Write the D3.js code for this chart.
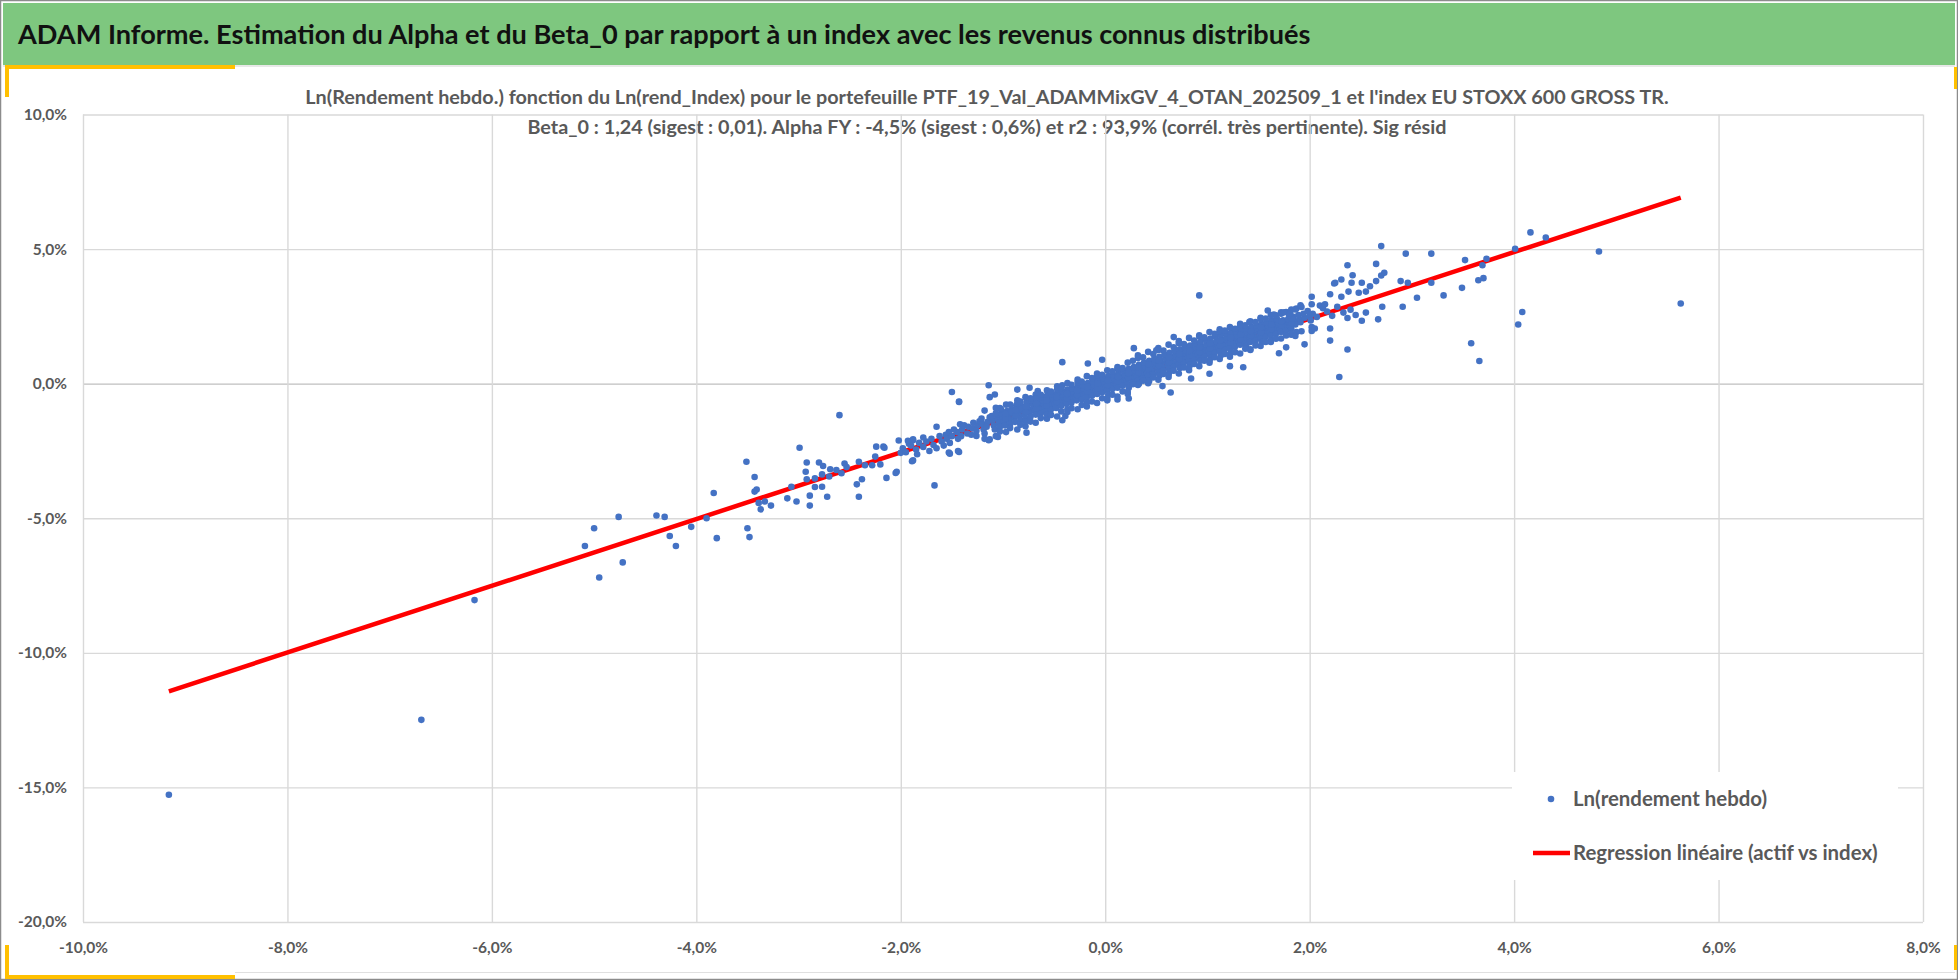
<!DOCTYPE html>
<html>
<head>
<meta charset="utf-8">
<script src="https://cdn.jsdelivr.net/npm/d3@7"></script>
<style>
html, body { margin:0; padding:0; background:#fff; }
svg { display:block; }
</style>
</head>
<body>
<svg id="chart" width="1958" height="980"></svg>
<script>
var titre = "ADAM Informe. Estimation du Alpha et du Beta_0 par rapport à un index avec les revenus connus distribués";
var sousTitres = [
	"Ln(Rendement hebdo.) fonction du Ln(rend_Index) pour le portefeuille PTF_19_Val_ADAMMixGV_4_OTAN_202509_1 et l'index EU STOXX 600 GROSS TR.",
	"Beta_0 : 1,24 (sigest : 0,01). Alpha FY : -4,5% (sigest : 0,6%) et r2 : 93,9% (corrél. très pertinente). Sig résid"
];
var legendeLabels = ["Ln(rendement hebdo)", "Regression linéaire (actif vs index)"];
var xTicks = [-10, -8, -6, -4, -2, 0, 2, 4, 6, 8];
var yTicks = [10, 5, 0, -5, -10, -15, -20];
var regression = { beta : 1.24, constante : -0.07 };

// [ln rend index %, ln rend hebdo %]
var queueGauche = [
	[-9.16,-15.27],[-6.69,-12.49],[-6.17,-8.04],
	[-5.09,-6.03],[-5.00,-5.37],[-4.95,-7.20],[-4.76,-4.95],[-4.72,-6.64],[-4.39,-4.90],[-4.31,-4.95],[-4.26,-5.66],
	[-4.20,-6.03],[-4.05,-5.32],[-3.90,-5.00],[-3.83,-4.06],[-3.80,-5.74],
	[-3.51,-2.90],[-3.43,-3.47],[-3.43,-4.01],[-3.41,-3.93],[-3.50,-5.37],[-3.48,-5.70],[-3.39,-4.43],[-3.37,-4.67],
	[-3.33,-4.38],[-3.27,-4.53],[-3.11,-4.26],[-3.07,-3.83],[-3.02,-4.38],[-2.99,-2.38],[-2.89,-4.53],[-2.89,-4.16],
	[-2.93,-3.27],[-2.92,-2.93],[-2.92,-3.55],[-2.84,-3.52],[-2.84,-3.84],[-2.77,-3.83],[-2.72,-4.20],[-2.80,-2.93],
	[-2.76,-3.06],[-2.69,-3.18],[-2.63,-3.21],[-2.77,-3.37],[-2.70,-3.45],[-2.60,-1.17],[-2.58,-3.33],[-2.55,-2.97],
	[-2.53,-3.10],[-2.43,-3.74],[-2.41,-4.20],[-2.38,-3.55],[-2.41,-2.90],[-2.35,-3.03],[-2.28,-3.03],[-2.20,-3.00],
	[-2.24,-2.34],[-2.17,-2.34],[-2.25,-2.71],[-2.14,-3.50],[-2.04,-3.27],[-2.02,-2.11],[-2.00,-2.57],[-1.92,-2.23],
	[-1.88,-2.85],[-1.88,-2.07],[-1.67,-3.78],[-1.65,-1.60],[-1.43,-0.66],[-1.53,-2.56],[-1.44,-2.50],[-0.77,-1.82],
	[-1.42,-1.51],[-1.26,-1.94],[-1.13,-2.07],[-2.16,-2.38],[-2.05,-3.32],[-1.89,-2.88],[-1.52,-2.60],[-1.43,-2.54],
	[-1.14,-2.10],[-1.05,-1.98],[-0.42,-1.36],[-1.88,-2.10],[-1.14,-0.06],[-1.13,-0.50],[-1.08,-0.40],[-1.50,-0.31],
	[-1.43,-0.68],[-0.86,-0.22],[-0.74,-0.15],[-0.66,-0.27],[-0.42,-0.06],[-0.39,-1.20],[0.23,-0.55],[0.12,-0.59],
	[0.64,-0.33],[0.56,-0.09],
	[-1.98,-2.40],[-1.95,-2.55],[-1.90,-2.30],[-1.85,-2.45],[-1.82,-2.20],[-1.78,-2.35],[-1.75,-2.15],[-1.72,-2.50],
	[-1.70,-2.05],[-1.68,-2.28],[-1.65,-2.40],[-1.62,-1.95],[-1.60,-2.15],[-1.58,-2.30],[-1.56,-1.90],[-1.55,-2.05],
	[-1.53,-1.80],[-1.78,-2.00],[-1.84,-2.62],[-1.93,-2.12]
];

var nuageCentral = [
	[-1.50,-1.95],[-1.48,-1.70],[-1.52,-2.20],[-1.45,-1.80],[-1.44,-2.05],[-1.40,-1.70],[-1.41,-1.95],[-1.38,-1.55],
	[-1.35,-1.85],[-1.34,-1.60],[-1.30,-1.66],[-1.29,-1.45],[-1.31,-1.90],[-1.25,-1.55],[-1.26,-1.75],[-1.23,-1.40],
	[-1.20,-1.50],[-1.19,-1.70],[-1.21,-1.30],[-1.18,-1.85],[-1.15,-1.42],[-1.16,-1.60],[-1.13,-1.25],
	[-1.10,-1.35],[-1.09,-1.55],[-1.11,-1.20],[-1.08,-1.70],[-1.05,-1.30],[-1.04,-1.45],[-1.06,-1.15],[-1.03,-1.60],
	[-1.00,-1.25],[-0.99,-1.40],[-1.01,-1.10],[-0.98,-1.55],[-1.02,-0.95],
	[-0.95,-1.18],[-0.94,-1.35],[-0.96,-1.02],[-0.93,-1.50],[-0.90,-1.12],[-0.89,-1.28],[-0.91,-0.95],[-0.88,-1.42],[-0.92,-1.05],
	[-0.85,-1.05],[-0.84,-1.20],[-0.86,-0.90],[-0.83,-1.35],[-0.87,-0.80],[-0.80,-1.00],[-0.79,-1.15],[-0.81,-0.85],[-0.78,-1.28],[-0.82,-0.92],
	[-0.75,-0.95],[-0.74,-1.08],[-0.76,-0.80],[-0.73,-1.22],[-0.77,-0.70],[-0.70,-0.88],[-0.69,-1.02],[-0.71,-0.75],[-0.68,-1.15],[-0.72,-0.62],
	[-0.65,-0.82],[-0.64,-0.96],[-0.66,-0.70],[-0.63,-1.10],[-0.67,-0.58],[-0.60,-0.75],[-0.59,-0.90],[-0.61,-0.62],[-0.58,-1.02],[-0.62,-0.50],
	[-0.55,-0.70],[-0.54,-0.82],[-0.56,-0.58],[-0.53,-0.95],[-0.57,-0.45],[-0.50,-0.62],[-0.49,-0.76],[-0.51,-0.52],[-0.48,-0.90],[-0.52,-0.40],
	[-0.45,-0.58],[-0.44,-0.70],[-0.46,-0.45],[-0.43,-0.82],[-0.47,-0.35],[-0.40,-0.52],[-0.39,-0.64],[-0.41,-0.40],[-0.38,-0.75],[-0.42,-0.28],
	[-0.35,-0.45],[-0.34,-0.58],[-0.36,-0.35],[-0.33,-0.70],[-0.37,-0.22],[-0.30,-0.40],[-0.29,-0.52],[-0.31,-0.30],[-0.28,-0.62],[-0.32,-0.18],
	[-0.25,-0.33],[-0.24,-0.46],[-0.26,-0.22],[-0.23,-0.58],[-0.27,-0.12],[-0.20,-0.28],[-0.19,-0.38],[-0.21,-0.18],[-0.18,-0.50],[-0.22,-0.05],
	[-0.15,-0.20],[-0.14,-0.32],[-0.16,-0.10],[-0.13,-0.45],[-0.17,0.02],[-0.10,-0.15],[-0.09,-0.26],[-0.11,-0.05],[-0.08,-0.38],[-0.12,0.08],
	[-0.05,-0.08],[-0.04,-0.20],[-0.06,0.02],[-0.03,-0.32],[-0.07,0.15],[0.00,-0.02],[0.01,-0.14],[-0.01,0.08],[0.02,-0.25],[-0.02,0.20],[0.03,-0.40],
	[0.05,0.04],[0.06,-0.08],[0.04,0.15],[0.07,-0.20],[0.03,0.28],[0.10,0.10],[0.11,-0.02],[0.09,0.20],[0.12,-0.15],[0.08,0.32],
	[0.15,0.16],[0.16,0.05],[0.14,0.28],[0.17,-0.08],[0.13,0.40],[0.20,0.22],[0.21,0.10],[0.19,0.35],[0.22,-0.02],[0.18,0.48],[0.23,-0.15],
	[0.25,0.30],[0.26,0.18],[0.24,0.42],[0.27,0.05],[0.23,0.55],[0.30,0.38],[0.31,0.25],[0.29,0.50],[0.32,0.12],[0.28,0.62],[0.33,0.00],
	[0.35,0.46],[0.36,0.32],[0.34,0.58],[0.37,0.20],[0.33,0.70],[0.40,0.52],[0.41,0.40],[0.39,0.65],[0.42,0.28],[0.38,0.78],[0.43,0.10],
	[0.45,0.60],[0.46,0.46],[0.44,0.72],[0.47,0.34],[0.43,0.85],[0.50,0.68],[0.51,0.55],[0.49,0.80],[0.52,0.42],[0.48,0.92],[0.53,0.30],
	[0.55,0.76],[0.56,0.62],[0.54,0.88],[0.57,0.50],[0.53,1.00],[0.60,0.82],[0.61,0.70],[0.59,0.95],[0.62,0.58],[0.58,1.08],[0.63,0.45],
	[0.65,0.90],[0.66,0.76],[0.64,1.02],[0.67,0.64],[0.63,1.15],[0.70,0.96],[0.71,0.82],[0.69,1.08],[0.72,0.70],[0.68,1.22],[0.73,0.58],
	[0.75,1.02],[0.76,0.90],[0.74,1.15],[0.77,0.78],[0.73,1.28],[0.80,1.08],[0.81,0.95],[0.79,1.22],[0.82,0.84],[0.78,1.35],[0.83,0.70],
	[0.85,1.15],[0.86,1.02],[0.84,1.28],[0.87,0.90],[0.83,1.42],[0.90,1.20],[0.91,1.08],[0.89,1.35],[0.92,0.96],[0.88,1.50],[0.93,0.85],
	[0.95,1.28],[0.96,1.15],[0.94,1.40],[0.97,1.02],[0.93,1.55],[1.00,1.32],[1.01,1.20],[0.99,1.46],[1.02,1.08],[0.98,1.62],[1.03,0.95],
	[1.05,1.40],[1.06,1.26],[1.04,1.52],[1.07,1.15],[1.03,1.68],[1.10,1.45],[1.11,1.32],[1.09,1.58],[1.12,1.20],[1.08,1.75],[1.13,1.05],
	[1.15,1.52],[1.16,1.40],[1.14,1.65],[1.17,1.28],[1.13,1.80],[1.20,1.58],[1.21,1.45],[1.19,1.72],[1.22,1.32],[1.18,1.88],[1.23,1.18],
	[1.25,1.62],[1.26,1.50],[1.24,1.75],[1.27,1.38],[1.23,1.90],[1.30,1.68],[1.31,1.55],[1.29,1.80],[1.32,1.45],[1.28,1.95],
	[1.35,1.72],[1.36,1.60],[1.34,1.85],[1.37,1.50],[1.33,2.00],[1.38,1.40],[1.40,1.80],[1.41,1.66],[1.39,1.92],[1.42,1.55],[1.38,2.05],
	[1.45,1.85],[1.46,1.72],[1.44,1.98],[1.47,1.60],[1.43,2.10],[1.50,1.92],[1.51,1.78],[1.49,2.04],[1.52,1.68],[1.48,2.16],[1.53,1.55],
	[1.55,1.98],[1.56,1.85],[1.54,2.10],[1.57,1.74],[1.53,2.22],[1.60,2.02],[1.61,1.90],[1.59,2.15],[1.62,1.80],[1.58,2.28],
	[1.65,2.10],[1.66,1.96],[1.64,2.22],[1.67,1.85],[1.63,2.35],[1.70,2.15],[1.71,2.02],[1.69,2.28],[1.72,1.92],[1.68,2.40],
	[1.75,2.22],[1.76,2.08],[1.74,2.35],[1.77,1.98],[1.80,2.28],[1.81,2.15],[1.79,2.40],[1.82,2.05],
	[1.85,2.34],[1.86,2.20],[1.84,2.48],[1.90,2.40],[1.91,2.28],[1.89,2.55],[1.95,2.45],[1.94,2.60],[2.00,2.50],[2.01,2.35]
];

// bords du nuage, plus epais que le coeur
var nuageBords = [
	[-1.18,-1.00],[-1.18,-2.05],[-1.07,-0.90],[-1.07,-1.95],[-1.07,-1.10],[-0.97,-0.78],[-0.97,-1.80],
	[-0.86,-0.62],[-0.86,-1.70],[-0.86,-0.75],[-0.78,-0.50],[-0.78,-1.58],[-0.78,-1.40],[-0.68,-0.40],[-0.68,-1.45],[-0.68,-0.55],
	[-0.57,-0.25],[-0.57,-1.30],[-0.57,-1.15],[-0.47,-0.10],[-0.47,-1.22],[-0.47,-0.20],[-0.37,0.02],[-0.37,-1.05],[-0.37,-0.95],
	[-0.27,0.15],[-0.27,-0.95],[-0.27,0.05],[-0.18,0.28],[-0.18,-0.85],[-0.18,-0.70],[-0.08,0.38],[-0.08,-0.72],[-0.08,0.30],
	[0.02,0.50],[0.02,-0.62],[0.02,-0.55],[0.12,0.62],[0.12,-0.48],[0.12,0.55],[0.22,0.78],[0.22,-0.38],[0.22,-0.30],
	[0.32,1.05],[0.32,-0.05],[0.32,0.95],[0.42,1.18],[0.42,0.02],[0.42,0.12],[0.52,1.32],[0.52,0.15],[0.52,1.25],
	[0.62,1.45],[0.62,0.25],[0.62,0.35],[0.72,1.58],[0.72,0.38],[0.72,1.50],[0.82,1.70],[0.82,0.50],[0.82,0.60],
	[0.92,1.80],[0.92,0.65],[0.92,1.75],[1.02,1.92],[1.02,0.78],[1.02,0.85],[1.12,2.02],[1.12,0.92],[1.12,1.95],
	[1.22,2.10],[1.22,1.00],[1.22,1.08],[1.32,2.22],[1.32,1.12],[1.32,2.15],[1.42,2.32],[1.42,1.28],[1.42,1.25],
	[1.52,2.45],[1.52,1.40],[1.52,2.40],[1.62,2.55],[1.62,1.55],[1.62,1.60],[1.72,2.65],[1.72,1.68],[1.72,2.60],
	[1.82,2.75],[1.82,1.82],[1.82,1.85],[1.92,2.85],[1.92,1.95],[2.02,2.95],[2.02,2.10],
	[-1.03,-0.91],[-1.03,-1.78],[-0.93,-0.78],[-0.93,-1.65],[-0.83,-0.66],[-0.83,-1.53],[-0.73,-0.54],[-0.73,-1.41],
	[-0.63,-0.41],[-0.63,-1.28],[-0.53,-0.29],[-0.53,-1.16],[-0.43,-0.16],[-0.43,-1.03],[-0.33,-0.04],[-0.33,-0.91],
	[-0.23,0.08],[-0.23,-0.79],[-0.13,0.21],[-0.13,-0.66],[-0.03,0.33],[-0.03,-0.54],[0.07,0.46],[0.07,-0.41],
	[0.17,0.58],[0.17,-0.29],[0.27,0.85],[0.27,-0.02],[0.37,0.98],[0.37,0.11],[0.47,1.10],[0.47,0.23],
	[0.57,1.23],[0.57,0.36],[0.67,1.35],[0.67,0.48],[0.77,1.47],[0.77,0.60],[0.87,1.60],[0.87,0.73],
	[0.97,1.72],[0.97,0.85],[1.07,1.85],[1.07,0.98],[1.17,1.97],[1.17,1.10],[1.27,2.04],[1.27,1.17],
	[1.37,2.17],[1.37,1.30],[1.47,2.29],[1.47,1.42],[1.57,2.42],[1.57,1.55],[1.67,2.54],[1.67,1.67],
	[1.77,2.66],[1.77,1.79],[1.87,2.79],[1.87,1.92],
	[-0.975,-1.30],[-0.975,-1.12],[-0.875,-1.18],[-0.875,-0.98],[-0.775,-1.05],[-0.775,-0.85],[-0.675,-0.92],[-0.675,-0.75],
	[-0.575,-0.80],[-0.575,-0.62],[-0.475,-0.68],[-0.475,-0.50],[-0.375,-0.55],[-0.375,-0.38],[-0.275,-0.42],[-0.275,-0.25],
	[-0.175,-0.30],[-0.175,-0.12],[-0.075,-0.18],[-0.075,0.00],[0.025,-0.05],[0.025,0.12],[0.125,0.08],[0.125,0.25],
	[0.225,0.22],[0.225,0.40],[0.325,0.42],[0.325,0.60],[0.425,0.55],[0.425,0.72],[0.525,0.68],[0.525,0.85],
	[0.625,0.80],[0.625,0.98],[0.725,0.92],[0.725,1.10],[0.825,1.05],[0.825,1.22],[0.925,1.18],[0.925,1.35],
	[1.025,1.30],[1.025,1.48],[1.125,1.42],[1.125,1.60],[1.225,1.52],[1.225,1.70],[1.325,1.65],[1.325,1.82],
	[1.425,1.78],[1.425,1.95],[1.525,1.90],[1.525,2.08],[1.625,2.02],[1.625,2.20],[1.725,2.15],[1.725,2.32],
	[1.825,2.25],[1.825,2.42]
];

var queueDroite = [
	[0.92,3.28],[0.28,1.32],[0.52,1.26],[0.50,1.24],[0.67,1.73],[-0.03,0.89],[-0.17,0.75],[-0.42,0.80],[0.84,0.19],
	[1.02,0.37],[1.22,0.65],[1.35,0.61],
	[1.41,2.29],[1.59,2.72],[1.65,2.57],[1.75,2.65],[1.80,2.55],[1.81,2.60],[1.86,2.76],[1.91,2.91],[1.98,2.70],[2.03,2.60],
	[2.07,2.48],[2.10,2.90],[2.13,2.80],[2.15,2.95],[2.17,2.68],[2.22,2.52],[2.27,2.86],[2.33,2.64],[2.40,2.75],[2.45,2.55],[2.55,2.64],
	[1.70,1.13],[1.77,1.35],[1.86,1.77],[1.95,1.46],[2.02,1.96],[2.05,2.05],[2.20,2.05],[2.20,1.60],[2.37,1.27],[2.29,0.25],
	[2.37,2.44],[2.51,2.34],[2.67,2.39],[2.71,2.86],[2.91,2.86],[3.05,3.19],[3.31,3.28],
	[2.02,3.23],[2.20,3.32],[2.31,3.23],[2.38,3.42],[2.48,3.38],[2.55,3.42],[2.59,3.62],[2.24,3.72],[2.25,3.75],[2.41,3.75],
	[2.51,3.75],[2.65,3.81],[2.31,3.87],[2.42,4.03],[2.70,4.02],[2.73,4.12],[2.37,4.40],[2.65,4.45],[2.70,5.11],[2.89,3.81],
	[2.96,3.75],[2.94,4.83],[3.19,4.83],[3.19,3.75],[3.49,3.56],[3.52,4.59],[3.65,3.84],[3.70,3.92],[3.69,4.40],[3.73,4.64],
	[3.58,1.50],[3.66,0.84],[4.01,5.01],[4.16,5.62],[4.31,5.43],[4.04,2.20],[4.08,2.66],[4.83,4.91],[5.63,2.98]
];

function RegressionView(){
	this.svg = d3.select('#chart');
	this.font = 'Lato, "Open Sans", "DejaVu Sans Condensed", sans-serif';
	this.plot = { left : 83, right : 1923, top : 114.5, bottom : 922 };
	this.dotRadius = 3.3;
	this.colors = {
		green : '#7ec77f', yellow : '#ffc000', grid : '#d9d9d9', axis : '#bfbfbf',
		text : '#595959', dot : '#4472c4', line : '#ff0000'
	};
	var fr = d3.formatLocale({ decimal : ',', thousands : '\u00a0', grouping : [3], currency : ['', ' €'], minus : '-' });
	this.fmt = fr.format('.1f');
}

RegressionView.prototype.render = function(){
	this.x = d3.scaleLinear().domain([-10, 8]).range([this.plot.left, this.plot.right]);
	this.y = d3.scaleLinear().domain([-20, 10]).range([this.plot.bottom, this.plot.top]);
	this.drawFrame();
	this.drawTitles();
	this.drawGrid();
	this.drawAxisLabels();
	this.drawRegression();
	this.drawPoints();
	this.drawLegend();
}

RegressionView.prototype.addRect = function(x, y, w, h, fill){
	return this.svg.append('rect').attr('x', x).attr('y', y).attr('width', w).attr('height', h).attr('fill', fill);
}

RegressionView.prototype.drawFrame = function(){
	this.svg.append('rect').attr('x', 0.5).attr('y', 0.5).attr('width', 1957).attr('height', 979)
		.attr('fill', '#fff').attr('stroke', '#8c8c8c').attr('stroke-width', 1.5);
	this.addRect(3, 3, 1952, 62, this.colors.green);
	this.addRect(3, 65, 1952, 2, '#e8e8e8');
	this.svg.append('line').attr('x1', 235).attr('x2', 1955).attr('y1', 972.5).attr('y2', 972.5)
		.attr('stroke', '#e0e0e0').attr('stroke-width', 1);
	var c = this.colors.yellow;
	this.addRect(5, 65, 230, 4, c);
	this.addRect(5, 65, 4, 32, c);
	this.addRect(5, 945, 4, 34, c);
	this.addRect(5, 975, 230, 4, c);
	this.addRect(1954, 67, 3, 22, c);
	this.addRect(1954, 945, 3, 25, c);
}

RegressionView.prototype.addText = function(x, y, str, size, fill, anchor, weight){
	return this.svg.append('text')
		.attr('x', x).attr('y', y).attr('dy', '0.35em')
		.attr('font-family', this.font).attr('font-size', size)
		.attr('font-weight', weight || 'normal')
		.attr('fill', fill).attr('text-anchor', anchor)
		.text(str);
}

// scale the font so the text spans the measured width of the reference
RegressionView.prototype.fitSize = function(t, width){
	var base = +t.attr('font-size');
	var w = t.node().getComputedTextLength();
	var s = base * width / w;
	t.attr('font-size', s);
	return s;
}

RegressionView.prototype.drawTitles = function(){
	var t = this.addText(18, 35, titre, 28, '#111111', 'start', 'bold');
	this.fitSize(t, 1293);
	var s1 = this.addText(987, 97, sousTitres[0], 18, this.colors.text, 'middle', 'bold');
	var size = this.fitSize(s1, 1364);
	this.addText(987, 127, sousTitres[1], size, this.colors.text, 'middle', 'bold');
}

RegressionView.prototype.drawGrid = function(){
	var p = this.plot, self = this;
	var g = this.svg.append('g').attr('class', 'grid');
	g.append('g')
		.attr('transform', 'translate(' + p.left + ',0)')
		.call(d3.axisLeft(this.y).tickValues(yTicks).tickSize(-(p.right - p.left)).tickFormat(''))
		.call(function(a){
			a.select('.domain').remove();
			a.selectAll('line').attr('stroke', function(d){ return d === 0 ? self.colors.axis : self.colors.grid; })
				.attr('stroke-width', 1.4);
		});
	g.append('g')
		.attr('transform', 'translate(0,' + p.bottom + ')')
		.call(d3.axisBottom(this.x).tickValues(xTicks).tickSize(-(p.bottom - p.top)).tickFormat(''))
		.call(function(a){
			a.select('.domain').remove();
			a.selectAll('line').attr('stroke', self.colors.grid).attr('stroke-width', 1.4);
		});
}

RegressionView.prototype.drawAxisLabels = function(){
	var p = this.plot, self = this;
	var lab = function(d){ return self.fmt(d) + '%'; };
	var style = function(a){
		a.select('.domain').remove();
		a.selectAll('text').attr('font-family', self.font).attr('font-size', 15.5)
			.attr('font-weight', 'bold').attr('fill', self.colors.text);
	};
	this.svg.append('g')
		.attr('transform', 'translate(' + p.left + ',0)')
		.call(d3.axisLeft(this.y).tickValues(yTicks).tickSize(0).tickPadding(16).tickFormat(lab))
		.call(style);
	this.svg.append('g')
		.attr('transform', 'translate(0,' + p.bottom + ')')
		.call(d3.axisBottom(this.x).tickValues(xTicks).tickSize(0).tickPadding(20).tickFormat(lab))
		.call(style);
}

RegressionView.prototype.allPoints = function(){
	return queueGauche.concat(nuageCentral, nuageBords, queueDroite);
}

RegressionView.prototype.drawRegression = function(){
	var ext = d3.extent(this.allPoints(), function(d){ return d[0]; });
	var seg = ext.map(function(v){ return [v, regression.beta * v + regression.constante]; });
	var x = this.x, y = this.y;
	this.svg.append('path')
		.datum(seg)
		.attr('d', d3.line().x(function(d){ return x(d[0]); }).y(function(d){ return y(d[1]); }))
		.attr('fill', 'none').attr('stroke', this.colors.line).attr('stroke-width', 4.5);
}

RegressionView.prototype.drawPoints = function(){
	var x = this.x, y = this.y;
	this.svg.append('g').attr('class', 'dots')
		.selectAll('circle')
		.data(this.allPoints())
		.enter().append('circle')
		.attr('cx', function(d){ return x(d[0]); })
		.attr('cy', function(d){ return y(d[1]); })
		.attr('r', this.dotRadius)
		.attr('fill', this.colors.dot);
}

RegressionView.prototype.drawLegend = function(){
	this.addRect(1512, 772, 386, 108, '#fff');
	this.svg.append('circle').attr('cx', 1551).attr('cy', 799).attr('r', this.dotRadius).attr('fill', this.colors.dot);
	this.svg.append('line').attr('x1', 1533).attr('x2', 1570).attr('y1', 853).attr('y2', 853)
		.attr('stroke', this.colors.line).attr('stroke-width', 4.5);
	var t2 = this.addText(1573, 853, legendeLabels[1], 22, this.colors.text, 'start', 'bold');
	var size = this.fitSize(t2, 305);
	this.addText(1573, 799, legendeLabels[0], size, this.colors.text, 'start', 'bold');
}

var view = new RegressionView();
view.render();
</script>
</body>
</html>
